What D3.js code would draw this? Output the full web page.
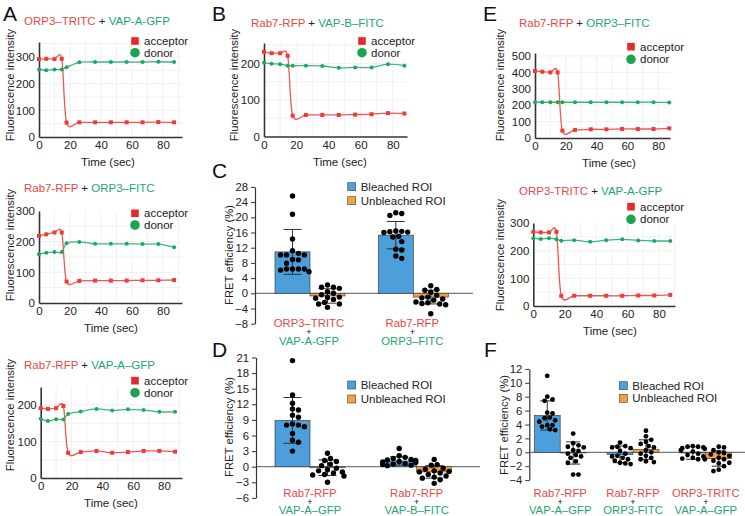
<!DOCTYPE html>
<html><head><meta charset="utf-8">
<script src="https://cdn.jsdelivr.net/npm/d3@7/dist/d3.min.js"></script>
<style>
body{margin:0;background:#fff}
svg{display:block;font-family:"Liberation Sans",Arial,sans-serif}
text{white-space:pre}
</style>
</head><body>
<svg id="fig" width="745" height="516"></svg>
<script>
// ---------------- DATA ----------------
const timeSec = [0, 4.7, 10, 14.7, 17.8, 26, 36.2, 46.4, 56.6, 66.8, 77, 87.2];
const lineTickX = [0, 20, 40, 60, 80];

// Panel A (top): ORP3–TRITC + VAP-A-GFP
const aTopAcceptor = [292, 293, 292, 293, 54, 55, 55, 55, 55, 55, 56, 55];
const aTopDonor    = [253, 250, 253, 253, 261, 280, 281, 281, 281, 281, 282, 281];
// Panel A (middle): Rab7-RFP + ORP3–FITC
const aMidAcceptor = [219, 224, 230, 230, 70, 72, 73, 73, 73, 74, 74, 75];
const aMidDonor    = [159, 164, 166, 166, 195, 199, 193, 193, 193, 192, 192, 182];
// Panel A (bottom): Rab7-RFP + VAP-A–GFP
const aBotAcceptor = [191, 189, 191, 197, 69, 71, 74, 69, 71, 74, 74, 72];
const aBotDonor    = [162, 156, 161, 160, 175, 182, 189, 185, 188, 186, 181, 181];
// Panel B: Rab7-RFP + VAP-B–FITC
const bAcceptor = [232, 228, 228, 221, 57, 59, 59, 59, 60, 61, 64, 63];
const bDonor    = [202, 199, 198, 194, 194, 194, 193, 188, 189, 189, 198, 194];
// Panel E (top): Rab7-RFP + ORP3–FITC
const eTopAcceptor = [408, 404, 400, 400, 45, 49, 53, 53, 55, 55, 55, 59];
const eTopDonor    = [218, 218, 218, 218, 218, 218, 218, 218, 218, 218, 218, 217];
// Panel E (bottom): ORP3-TRITC + VAP-A-GFP
const eBotAcceptor = [268, 266, 266, 268, 37, 37, 37, 37, 37, 38, 38, 40];
const eBotDonor    = [245, 242, 245, 241, 236, 238, 232, 238, 241, 237, 235, 235];

const seriesNames = ["Bleached ROI", "Unbleached ROI"];

// Panel C
const cGroups = ["ORP3–TRITC|VAP-A-GFP", "Rab7-RFP|ORP3–FITC"];
const cBleachedMean = [10.9, 15.3], cBleachedSD = [5.9, 3.6];
const cUnbleachedMean = [-0.7, -1.0], cUnbleachedSD = [1.9, 1.8];
const cBleachedDots = [
  [25.6, 20.8, 14.3, 11.2, 10.5, 10.1, 10.1, 10.1, 8.9, 8.8, 7.9, 6.4, 6.4, 6.4, 6.1, 6.4, 5.7],
  [21.2, 21.0, 20.5, 16.3, 16.2, 16.0, 16.1, 16.4, 15.0, 14.8, 13.6, 11.6, 11.4, 9.8, 9.2]];
const cUnbleachedDots = [
  [2.2, 1.6, 1.3, 1.6, 0.4, -0.4, 0.0, -1.3, -1.1, -1.0, -1.6, -2.4, -2.8, -2.8, -3.7],
  [2.0, 1.0, 0.8, 0.3, -0.5, -1.0, -1.2, -1.5, -1.8, -2.3, -2.5, -2.8, -3.0, -2.7, -5.4]];
const cTicks = [-8, -4, 0, 4, 8, 12, 16, 20, 24, 28];

// Panel D
const dGroups = ["Rab7-RFP|VAP-A–GFP", "Rab7-RFP|VAP-B–FITC"];
const dBleachedMean = [8.9, 1.1], dBleachedSD = [4.4, 0.8];
const dUnbleachedMean = [-0.2, -1.0], dUnbleachedSD = [1.5, 1.2];
const dBleachedDots = [
  [20.4, 13.8, 12.2, 11.1, 10.9, 9.9, 9.5, 8.2, 8.0, 8.0, 7.7, 6.4, 5.1, 4.7, 3.0],
  [3.5, 2.1, 1.8, 1.6, 1.4, 1.3, 1.2, 1.0, 0.9, 0.8, 0.6, 0.5, 0.4, 0.3, 0.2]];
const dUnbleachedDots = [
  [2.6, 1.6, 1.2, 1.0, 0.5, 0.2, -0.3, -0.6, -0.8, -1.0, -1.2, -1.5, -1.6, -1.8, -3.0],
  [1.4, 0.4, 0.3, -0.3, -0.5, -0.8, -0.9, -1.0, -1.2, -1.5, -1.8, -2.0, -2.2, -2.5, -3.2]];
const dTicks = [-6, -3, 0, 3, 6, 9, 12, 15, 18, 21];

// Panel F
const fGroups = ["Rab7-RFP|VAP-A–GFP", "Rab7-RFP|ORP3-FITC", "ORP3-TRITC|VAP-A–GFP"];
const fBleachedMean = [5.3, -0.3, -0.1], fBleachedSD = [2.1, 1.2, 0.9];
const fUnbleachedMean = [-0.1, 0.4, -0.9], fUnbleachedSD = [1.6, 1.4, 1.1];
const fBleachedDots = [
  [11.0, 8.0, 7.6, 7.4, 5.7, 5.6, 5.0, 4.9, 4.6, 4.4, 3.9, 3.9, 3.7, 3.3, 3.2],
  [1.4, 0.9, 0.8, 0.7, 0.6, 0.2, -0.2, -0.5, -0.6, -0.8, -1.0, -1.2, -1.5, -1.6, -1.7],
  [0.9, 0.8, 0.8, 0.7, 0.6, 0.5, 0.3, 0.1, -0.2, -0.4, -0.6, -0.8, -0.9, -1.0, -1.0]];
const fUnbleachedDots = [
  [2.7, 1.3, 1.0, 0.8, 0.7, 0.3, 0.2, -0.2, -0.4, -0.6, -0.8, -1.3, -1.5, -3.2, -3.2],
  [3.1, 2.3, 1.8, 1.5, 1.2, 0.9, 0.7, 0.3, 0.0, -0.2, -0.5, -0.8, -1.0, -1.3, -1.4],
  [0.8, 0.7, 0.3, 0.0, -0.1, -0.3, -0.5, -0.8, -1.0, -1.2, -1.5, -1.6, -2.0, -2.5, -2.7]];
const fTicks = [-4, -2, 0, 2, 4, 6, 8, 10, 12];

// ---------------- STYLE ----------------
const RED = "#ec4741", GREEN = "#22a86b", BLACK = "#222";
const LRED = "#f0574d", LGREEN = "#3cb97a";
const BLUE = "#4c9fdb", ORANGE = "#f3a03e";
const AXIS = "#333";
const FAM = '"Liberation Sans", Arial, sans-serif';
const svg = d3.select("#fig");

function rich(g, x, y, parts, size, anchor) {
  const t = g.append("text").attr("x", x).attr("y", y)
    .attr("font-size", size).attr("text-anchor", anchor || "start");
  parts.forEach(p => t.append("tspan").attr("fill", p[1]).text(p[0]));
  return t;
}
function letter(txt, x, y) {
  svg.append("text").attr("x", x).attr("y", y).attr("font-size", 21)
    .attr("fill", "#111").text(txt);
}
function vtitle(txt, cx, cy) {
  svg.append("text").attr("transform", `translate(${cx},${cy}) rotate(-90)`)
    .attr("text-anchor", "middle").attr("dominant-baseline", "central")
    .attr("font-size", 11.3).attr("fill", "#222").text(txt);
}

// ---------------- LINE PANELS ----------------
function linePanel(p) {
  const x = d3.scaleLinear().domain([0, p.tMax]).range([p.x0, p.x1]);
  const y = d3.scaleLinear().domain([0, p.yMax]).range([p.y0, p.yTop]);
  const g = svg.append("g");
  // faint grid
  g.append("g").selectAll("line").data(d3.range(10, p.tMax, 10)).join("line")
    .attr("x1", d => x(d)).attr("x2", d => x(d)).attr("y1", p.y0).attr("y2", p.yTop)
    .attr("stroke", "#eeeeee").attr("stroke-width", 0.8);
  g.append("g").selectAll("line").data(d3.range(p.gridStep, p.yMax, p.gridStep)).join("line")
    .attr("x1", p.x0).attr("x2", p.x1).attr("y1", d => y(d)).attr("y2", d => y(d))
    .attr("stroke", "#eeeeee").attr("stroke-width", 0.8);
  // axes
  const xa = g.append("g").attr("transform", `translate(0,${p.y0})`)
    .call(d3.axisBottom(x).tickValues(lineTickX).tickSize(0).tickPadding(4));
  const ya = g.append("g").attr("transform", `translate(${p.x0},0)`)
    .call(d3.axisLeft(y).tickValues(p.yTicks).tickSize(0).tickPadding(4));
  [xa, ya].forEach(a => {
    a.select(".domain").attr("stroke", AXIS).attr("stroke-width", 1.6);
    a.selectAll("text").attr("font-size", 11.5).attr("fill", "#222").attr("font-family", FAM);
  });
  g.append("text").attr("x", p.timeX).attr("y", p.y0 + 29)
    .attr("text-anchor", "middle").attr("font-size", 11.5).attr("fill", "#222").text("Time (sec)");
  // lines
  const line = d3.line().x((d, i) => x(timeSec[i])).y(d => y(d))
    .curve(d3.curveCardinal.tension(0.1));
  g.append("path").attr("d", line(p.donor)).attr("fill", "none")
    .attr("stroke", LGREEN).attr("stroke-width", 1.3);
  g.append("path").attr("d", line(p.acceptor)).attr("fill", "none")
    .attr("stroke", LRED).attr("stroke-width", 1.3);
  g.append("g").selectAll("circle").data(p.donor).join("circle")
    .attr("cx", (d, i) => x(timeSec[i])).attr("cy", d => y(d)).attr("r", 2)
    .attr("fill", "#1ea85a");
  g.append("g").selectAll("rect").data(p.acceptor).join("rect")
    .attr("x", (d, i) => x(timeSec[i]) - 2).attr("y", d => y(d) - 2)
    .attr("width", 4).attr("height", 4).attr("fill", "#ee3b35");
  // title
  rich(g, p.tx, p.ty, p.title, 11.5);
  // legend
  g.append("rect").attr("x", p.lx - 3.8).attr("y", p.ly1 - 3.8).attr("width", 7.6).attr("height", 7.6)
    .attr("fill", "#e5282b");
  g.append("circle").attr("cx", p.lx).attr("cy", p.ly2).attr("r", 4.8).attr("fill", "#1aa451");
  g.append("text").attr("x", p.lx + 9).attr("y", p.ly1).attr("dominant-baseline", "central")
    .attr("font-size", 11.5).attr("fill", "#222").text("acceptor");
  g.append("text").attr("x", p.lx + 9).attr("y", p.ly2).attr("dominant-baseline", "central")
    .attr("font-size", 11.5).attr("fill", "#222").text("donor");
}

linePanel({title: [["ORP3–TRITC", RED], [" + ", BLACK], ["VAP-A-GFP", GREEN]],
  acceptor: aTopAcceptor, donor: aTopDonor, tx: 24, ty: 25, timeX: 108,
  x0: 39, x1: 182, tMax: 92.3, y0: 137, yTop: 42, yMax: 356, yTicks: [0, 100, 200, 300], gridStep: 50,
  lx: 135, ly1: 41, ly2: 52.7});
linePanel({title: [["Rab7-RFP", RED], [" + ", BLACK], ["ORP3–FITC", GREEN]],
  acceptor: aMidAcceptor, donor: aMidDonor, tx: 24, ty: 192, timeX: 111,
  x0: 39, x1: 182, tMax: 92.3, y0: 303, yTop: 211, yMax: 300, yTicks: [0, 100, 200, 300], gridStep: 50,
  lx: 135, ly1: 213.3, ly2: 225});
linePanel({title: [["Rab7-RFP", RED], [" + ", BLACK], ["VAP-A–GFP", GREEN]],
  acceptor: aBotAcceptor, donor: aBotDonor, tx: 24, ty: 369, timeX: 111,
  x0: 40.7, x1: 182, tMax: 91.7, y0: 478, yTop: 387, yMax: 249, yTicks: [0, 100, 200], gridStep: 50,
  lx: 135, ly1: 380.7, ly2: 392.7});
linePanel({title: [["Rab7-RFP", RED], [" + ", BLACK], ["VAP-B–FITC", GREEN]],
  acceptor: bAcceptor, donor: bDonor, tx: 251, ty: 26.5, timeX: 340,
  x0: 264, x1: 407, tMax: 88.8, y0: 136.5, yTop: 43, yMax: 256, yTicks: [0, 100, 200], gridStep: 50,
  lx: 362, ly1: 41, ly2: 52.7});
linePanel({title: [["Rab7-RFP", RED], [" + ", BLACK], ["ORP3–FITC", GREEN]],
  acceptor: eTopAcceptor, donor: eTopDonor, tx: 519, ty: 27, timeX: 609,
  x0: 535, x1: 670, tMax: 87.7, y0: 138, yTop: 53, yMax: 518, yTicks: [0, 100, 200, 300, 400, 500], gridStep: 100,
  lx: 631, ly1: 46.7, ly2: 59.3});
linePanel({title: [["ORP3-TRITC", RED], [" + ", BLACK], ["VAP-A-GFP", GREEN]],
  acceptor: eBotAcceptor, donor: eBotDonor, tx: 519, ty: 195, timeX: 610,
  x0: 533.3, x1: 675, tMax: 90.2, y0: 306, yTop: 223, yMax: 300, yTicks: [0, 100, 200, 300], gridStep: 50,
  lx: 631, ly1: 206.7, ly2: 219.3});

vtitle("Fluorescence intensity", 10, 85);
vtitle("Fluorescence intensity", 10, 245);
vtitle("Fluorescence intensity", 10, 415);
vtitle("Fluorescence intensity", 234, 85);
vtitle("Fluorescence intensity", 500, 85);
vtitle("Fluorescence intensity", 500, 255);

// ---------------- BAR PANELS ----------------
function swarm(values, y, r) {
  const placed = [];
  const order = values.map((v, i) => i).sort((a, b) => values[b] - values[a]);
  const res = new Array(values.length);
  order.forEach(i => {
    const py = y(values[i]);
    let best = 0;
    for (let k = 0; k < 40; k++) {
      const off = (k % 2 ? 1 : -1) * Math.ceil(k / 2) * r * 1.1;
      if (placed.every(q => Math.hypot(q.x - off, q.y - py) >= 2 * r * 1.02)) { best = off; break; }
    }
    placed.push({x: best, y: py});
    res[i] = {x: best, y: py};
  });
  return res;
}

function barPanel(p) {
  const y = d3.scaleLinear().domain(p.domain).range(p.yRange);
  const xg = d3.scaleBand().domain(p.groups).range(p.bandRange).paddingInner(p.padInner);
  const xs = d3.scaleBand().domain(seriesNames).range([0, xg.bandwidth()]);
  const g = svg.append("g");
  // zero line
  g.append("line").attr("x1", p.axisX).attr("x2", p.zeroEnd).attr("y1", y(0)).attr("y2", y(0))
    .attr("stroke", "#777").attr("stroke-width", 1.2);
  const series = [
    {name: seriesNames[0], mean: p.bMean, sd: p.bSD, dots: p.bDots, fill: BLUE},
    {name: seriesNames[1], mean: p.uMean, sd: p.uSD, dots: p.uDots, fill: ORANGE}];
  series.forEach(s => {
    p.groups.forEach((grp, gi) => {
      const bx = xg(grp) + xs(s.name), bw = xs.bandwidth();
      const m = s.mean[gi];
      g.append("rect").attr("x", bx).attr("width", bw)
        .attr("y", Math.min(y(m), y(0))).attr("height", Math.abs(y(m) - y(0)))
        .attr("fill", s.fill).attr("stroke", "#444").attr("stroke-width", 0.7);
    });
  });
  series.forEach(s => {
    p.groups.forEach((grp, gi) => {
      const cx = xg(grp) + xs(s.name) + xs.bandwidth() / 2;
      const m = s.mean[gi], sd = s.sd[gi];
      const eg = g.append("g").attr("stroke", "#333").attr("stroke-width", 1);
      eg.append("line").attr("x1", cx).attr("x2", cx).attr("y1", y(m + sd)).attr("y2", y(m - sd));
      [m + sd, m - sd].forEach(v => eg.append("line").attr("x1", cx - p.cap).attr("x2", cx + p.cap)
        .attr("y1", y(v)).attr("y2", y(v)));
      const pos = swarm(s.dots[gi], y, p.dotR);
      g.append("g").selectAll("circle").data(pos).join("circle")
        .attr("cx", d => cx + Math.max(-xs.bandwidth() / 2 + 1, Math.min(xs.bandwidth() / 2 - 1, d.x)))
        .attr("cy", d => d.y).attr("r", p.dotR).attr("fill", "#000");
    });
  });
  // y axis
  const ya = g.append("g").attr("transform", `translate(${p.axisX},0)`)
    .call(d3.axisLeft(y).tickValues(p.ticks).tickSize(4).tickSizeOuter(0).tickPadding(3));
  ya.select(".domain").attr("stroke", AXIS).attr("stroke-width", 1.2);
  ya.selectAll(".tick line").attr("stroke", AXIS);
  ya.selectAll("text").attr("font-size", 11.3).attr("fill", "#222").attr("font-family", FAM);
  // group labels (one stacked text block per group)
  p.groups.forEach(grp => {
    const cx = xg(grp) + xg.bandwidth() / 2 + p.labelShift;
    const [a, b] = grp.split("|");
    const t = g.append("text").attr("x", cx).attr("y", p.labY[0]).attr("text-anchor", "middle")
      .attr("font-size", 11.3);
    t.append("tspan").attr("x", cx).attr("fill", RED).text(a);
    t.append("tspan").attr("x", cx).attr("dy", p.labY[1] - p.labY[0]).attr("font-size", 9)
      .attr("fill", "#111").text("+");
    t.append("tspan").attr("x", cx).attr("dy", p.labY[2] - p.labY[1]).attr("fill", GREEN).text(b);
  });
  // legend
  [[BLUE, seriesNames[0], p.ly[0]], [ORANGE, seriesNames[1], p.ly[1]]].forEach(([c, t, ly]) => {
    g.append("rect").attr("x", p.lx - 4).attr("y", ly - 4).attr("width", 8).attr("height", 8)
      .attr("fill", c).attr("stroke", "#444").attr("stroke-width", 0.6);
    g.append("text").attr("x", p.lx + 9).attr("y", ly).attr("dominant-baseline", "central")
      .attr("font-size", 11.5).attr("fill", "#222").text(t);
  });
}

barPanel({groups: cGroups, bMean: cBleachedMean, bSD: cBleachedSD, uMean: cUnbleachedMean, uSD: cUnbleachedSD,
  bDots: cBleachedDots, uDots: cUnbleachedDots, ticks: cTicks,
  domain: [-8, 28], yRange: [323.7, 186.9], axisX: 255, bandRange: [275, 448.3], padInner: 0.3226,
  zeroEnd: 473, cap: 9, dotR: 2.7, labelShift: -1, labY: [327.3, 335.3, 345], lx: 351.7, ly: [186.7, 200.7]});
barPanel({groups: dGroups, bMean: dBleachedMean, bSD: dBleachedSD, uMean: dUnbleachedMean, uSD: dUnbleachedSD,
  bDots: dBleachedDots, uDots: dUnbleachedDots, ticks: dTicks,
  domain: [-6, 21], yRange: [497.9, 357.5], axisX: 256, bandRange: [275, 451.7], padInner: 0.344,
  zeroEnd: 480, cap: 9, dotR: 2.7, labelShift: 0, labY: [497.3, 505, 513.5], lx: 351.7, ly: [385, 399]});
barPanel({groups: fGroups, bMean: fBleachedMean, bSD: fBleachedSD, uMean: fUnbleachedMean, uSD: fUnbleachedSD,
  bDots: fBleachedDots, uDots: fUnbleachedDots, ticks: fTicks,
  domain: [-4, 12], yRange: [480.1, 368.9], axisX: 529.3, bandRange: [534.3, 731.7], padInner: 0.288,
  zeroEnd: 745, cap: 7, dotR: 2.4, labelShift: 0, labY: [496.5, 504.5, 513.5], lx: 623.3, ly: [385.7, 398.3]});

vtitle("FRET efficiency (%)", 229, 255);
vtitle("FRET efficiency (%)", 229, 427);
vtitle("FRET efficiency (%)", 504, 425);

// panel letters
letter("A", 3, 21);
letter("B", 212, 21);
letter("E", 483, 21);
letter("C", 212, 178);
letter("D", 212, 357);
letter("F", 484, 357);
</script>
</body></html>
